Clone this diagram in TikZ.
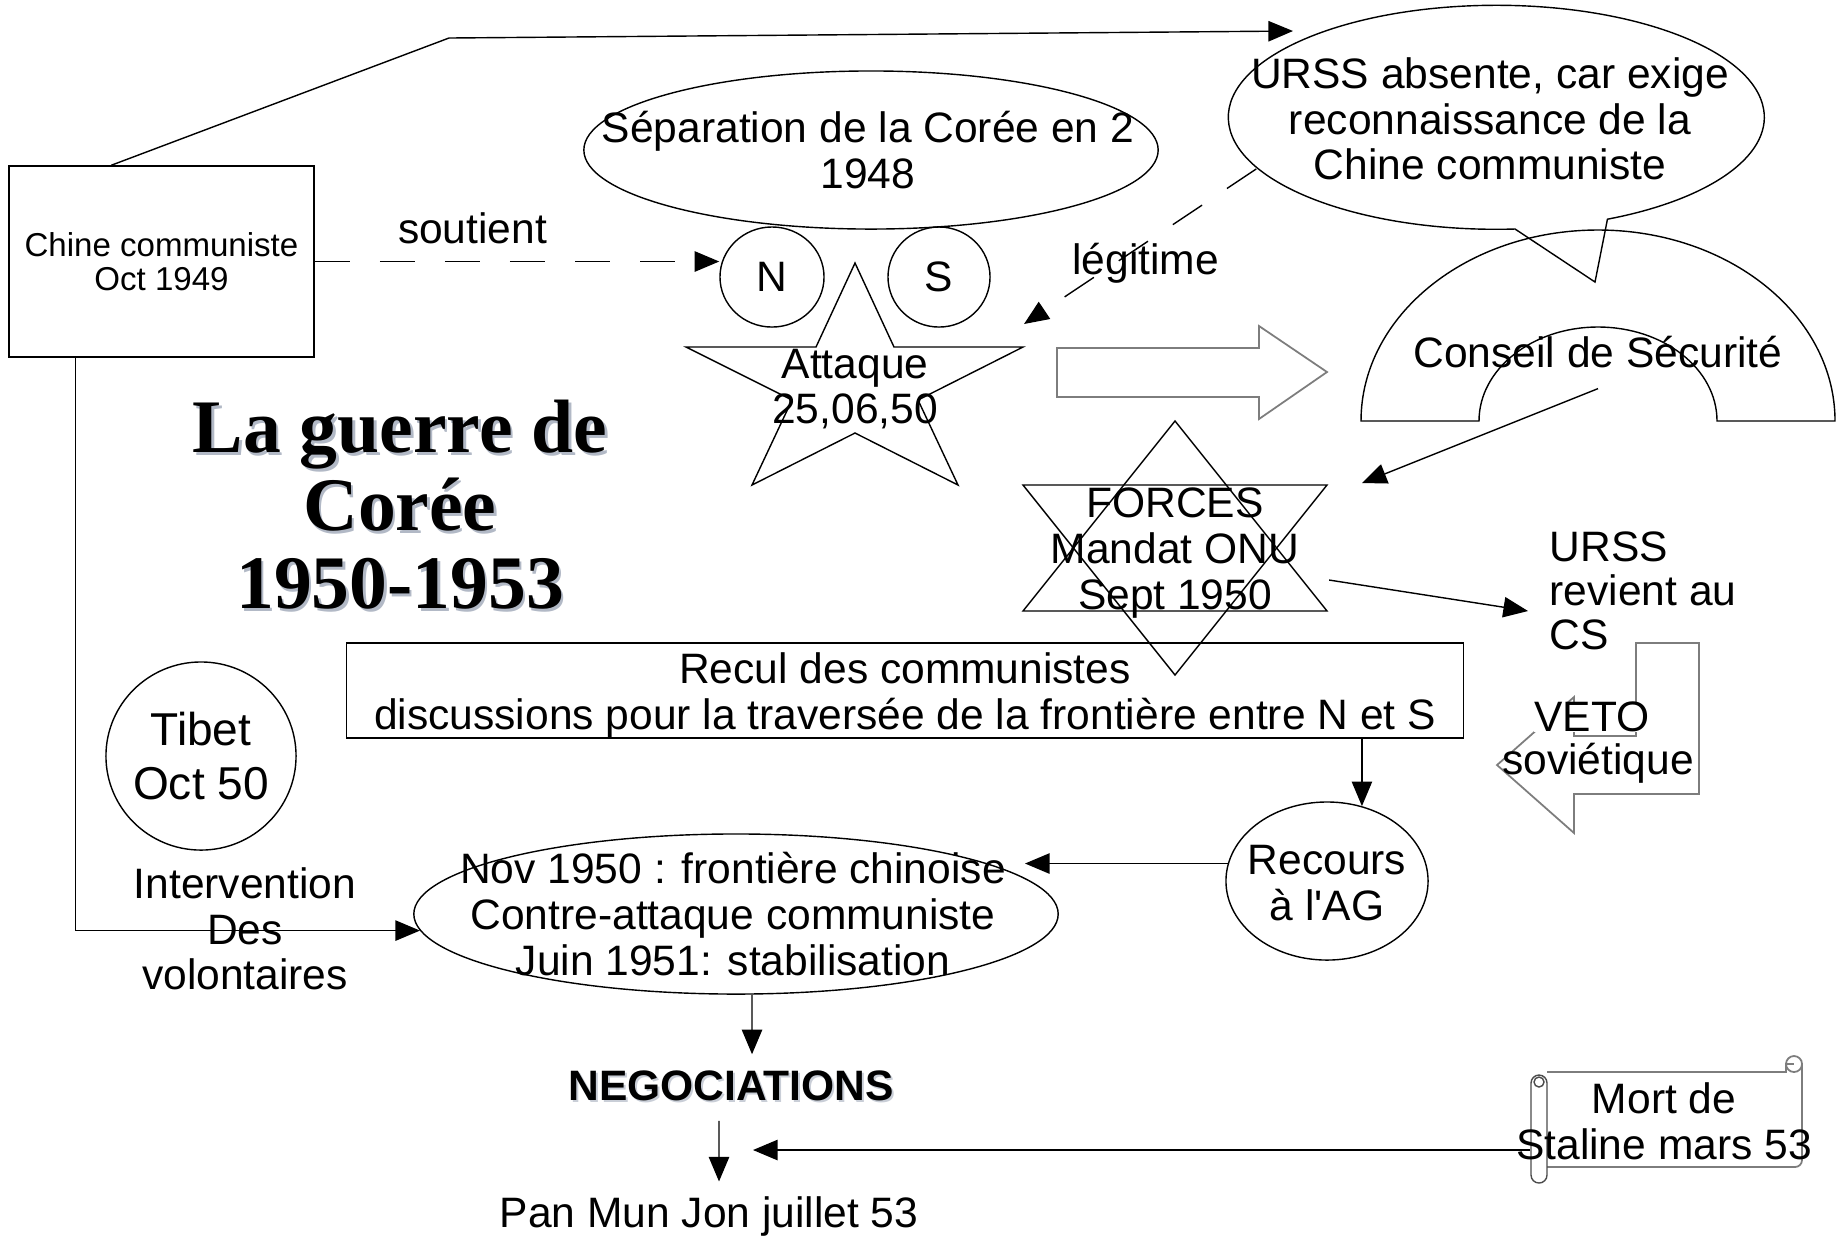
\documentclass[tikz,border=0pt]{standalone}
\usepackage{fontspec}
\setmainfont{Liberation Sans}[Ligatures=TeXOff]
\newfontfamily\titrefont{Liberation Serif}
\usetikzlibrary{arrows.meta, shapes.geometric}
\definecolor{ombre}{RGB}{178,185,198}
\definecolor{trait}{RGB}{125,125,125}
\tikzset{
  txt/.style   = {align=center, inner sep=0pt},
  bulle/.style = {ellipse, draw, inner sep=0pt},
  cadre/.style = {rectangle, draw, inner sep=0pt, align=center},
  lien/.style  = {-{Triangle[length=7pt, width=5.8pt]}},
  tiret/.style = {lien, dash pattern=on 10pt off 8.5pt},
  creux/.style = {draw=trait, line width=0.5pt}
}

\begin{document}
\begin{tikzpicture}[x=0.01cm, y=-0.01cm, line width=0.4pt,
    font=\fontsize{12.1}{13}\selectfont]
  \useasboundingbox (0,0) rectangle (1843,1247);
  \fill[white] (0,0) rectangle (1843,1247);

  % titre avec ombre
  \node (titreOmbre) [txt, text=ombre, font=\titrefont\bfseries\fontsize{21.5}{22.2}\selectfont]
    at (402.5,507.5) {La guerre de\\Corée\\1950-1953};
  \node (titre) [txt, font=\titrefont\bfseries\fontsize{21.5}{22.2}\selectfont]
    at (400,505) {La guerre de\\Corée\\1950-1953};

  % Chine et Corée
  \node (chine) [cadre, minimum width=3.05cm, minimum height=1.91cm,
    font=\fontsize{9.4}{9.6}\selectfont] at (161.5,261.5) {Chine communiste\\Oct 1949};
  \node (sep)  [bulle, minimum width=5.74cm, minimum height=1.58cm] at (871,150) {};
  \node (sepT) [txt] at (868,150) {Séparation de la Corée en 2\\1948};
  \node (nord) [bulle, minimum width=1.04cm, minimum height=1cm] at (772,277) {N};
  \node (sud)  [bulle, minimum width=1.02cm, minimum height=1cm] at (939,277) {S};

  % bulle URSS avec sa pointe
  \node (urss) [ellipse, inner sep=0pt, minimum width=5.36cm, minimum height=2.24cm] at (1496,118) {};
  \draw (1515,229) arc[start angle=86, end angle=425.5, x radius=268, y radius=112]
    -- (1595,282) -- cycle;
  \node (urssT) [txt] at (1490,119) {URSS absente, car exige\\reconnaissance de la\\Chine communiste};

  % étoile de l'attaque
  \draw (855,263) -- (894,347) -- (1023,347) -- (918,400) -- (958,485) -- (855,433)
    -- (752,485) -- (792,400) -- (686,347) -- (816,347) -- cycle;
  \node (attaque) [txt] at (855,389) {Attaque\\25,06,50};

  % flèche creuse vers le Conseil
  \draw[creux] (1057,348) -- (1259,348) -- (1259,326) -- (1327,372) -- (1259,419)
    -- (1259,397) -- (1057,397) -- cycle;

  % Conseil de Sécurité
  \draw (1361,421) arc[start angle=180, end angle=360, x radius=237, y radius=191]
    -- (1717,421) arc[start angle=0, end angle=-180, x radius=119, y radius=94] -- cycle;
  \node (conseil) [txt] at (1598,352) {Conseil de Sécurité};

  % étoile des forces
  \draw (1175,421) -- (1023,611) -- (1327,611) -- cycle;
  \draw (1175,675) -- (1023,485) -- (1327,485) -- cycle;
  \node (forces) [txt] at (1175,553) {FORCES\\Mandat ONU\\Sept 1950};

  \node (revient) [txt, align=left, anchor=west, font=\fontsize{12.1}{12.6}\selectfont]
    at (1549,591) {URSS\\revient au\\CS};

  % veto
  \draw[creux] (1636,643) -- (1699,643) -- (1699,794) -- (1574,794) -- (1574,833)
    -- (1497,765) -- (1574,697) -- (1574,736) -- (1636,736) -- cycle;
  \node (veto) [txt, fill=white] at (1592,717) {VETO};
  \node (sovietique) [txt] at (1598,763) {soviétique};

  % recul, recours, contre-attaque
  \node (recul) [cadre, minimum width=11.16cm, minimum height=0.95cm] at (905,690.5) {};
  \node (reculT) [txt] at (905,695.5)
    {Recul des communistes\\discussions pour la traversée de la frontière entre N et S};
  \node (recours)  [bulle, minimum width=2.02cm, minimum height=1.58cm] at (1327,881) {};
  \node (recoursT) [txt] at (1327,883) {Recours\\à l'AG};
  \node (nov)  [bulle, minimum width=6.44cm, minimum height=1.6cm] at (736,914) {};
  \node (novT) [txt] at (733,914) {Nov 1950 : frontière chinoise\\Contre-attaque communiste\\Juin 1951: stabilisation};
  \node (tibet)  [bulle, minimum width=1.9cm, minimum height=1.88cm] at (201,756) {};
  \node (tibetT) [txt, font=\fontsize{13.1}{15.1}\selectfont] at (201,756) {Tibet\\Oct 50};
  \node (interv) [txt] at (245,929) {Intervention\\Des\\volontaires};

  % fin de la guerre
  \node (negoOmbre) [txt, text=ombre!70, font=\fontsize{12.1}{13}\selectfont\bfseries] at (733,1088) {NEGOCIATIONS};
  \node (nego) [txt, font=\fontsize{12.1}{13}\selectfont\bfseries] at (731,1086) {NEGOCIATIONS};
  \node (pan)  [txt] at (709,1216) {Pan Mun Jon juillet 53};

  % parchemin
  \node (mort) [inner sep=0pt, minimum width=2.71cm, minimum height=0.95cm] at (1666.5,1119.5) {};
  \draw[creux] (1547,1072) -- (1786,1072) -- (1786,1064) -- (1794,1064);
  \draw[creux] (1794,1064) circle[radius=8];
  \draw[creux, rounded corners=0.07cm] (1802,1064) -- (1802,1167) -- (1547,1167);
  \draw[draw=black!70, rounded corners=0.08cm] (1531,1075) rectangle (1547,1183);
  \draw[draw=black!70] (1539,1082) circle[radius=5];
  \node (mortT) [txt] at (1664,1121) {Mort de\\Staline mars 53};

  % liaisons
  \coordinate (coude) at (449,38);
  \coordinate (urssPointe) at (1293,31);
  \coordinate (attPointe) at (1024,324);
  \coordinate (forcesPointe) at (1362,483);
  \coordinate (revientPointe) at (1528,611);
  \coordinate (novPointe) at (1025,866);
  \coordinate (panPointe) at (753,1150);

  \draw[lien] ([xshift=1.03cm]chine.north west) -- (coude) -- (urssPointe);
  \draw[tiret] (chine.east) -- node[txt, pos=0.39, above=0.17cm] (soutient) {soutient}
    (chine.east -| nord.west);
  \draw[tiret] (urss.192) -- node[txt, pos=0.61, xshift=0.31cm] (legitime) {légitime} (attPointe);
  \draw[lien] ([yshift=-0.2cm]conseil.south) -- (forcesPointe);
  \draw[lien] ([xshift=1.54cm, yshift=-0.27cm]forces.center) -- (revientPointe);
  \draw[lien] (recours.65 |- recul.south) -- (recours.65);
  \draw[lien] (recours.170) -- (recours.170 -| novPointe);
  \draw[lien] ([xshift=0.67cm]chine.south west) |- (nov.183);
  \draw[lien] ([xshift=0.16cm]nov.south) -- ([xshift=0.21cm, yshift=0.16cm]nego.north);
  \draw[lien] ([xshift=-0.12cm, yshift=-0.19cm]nego.south) -- ([xshift=0.1cm, yshift=0.14cm]pan.north);
  \draw[lien] (mort.west |- panPointe) -- (panPointe);
\end{tikzpicture}
\end{document}
